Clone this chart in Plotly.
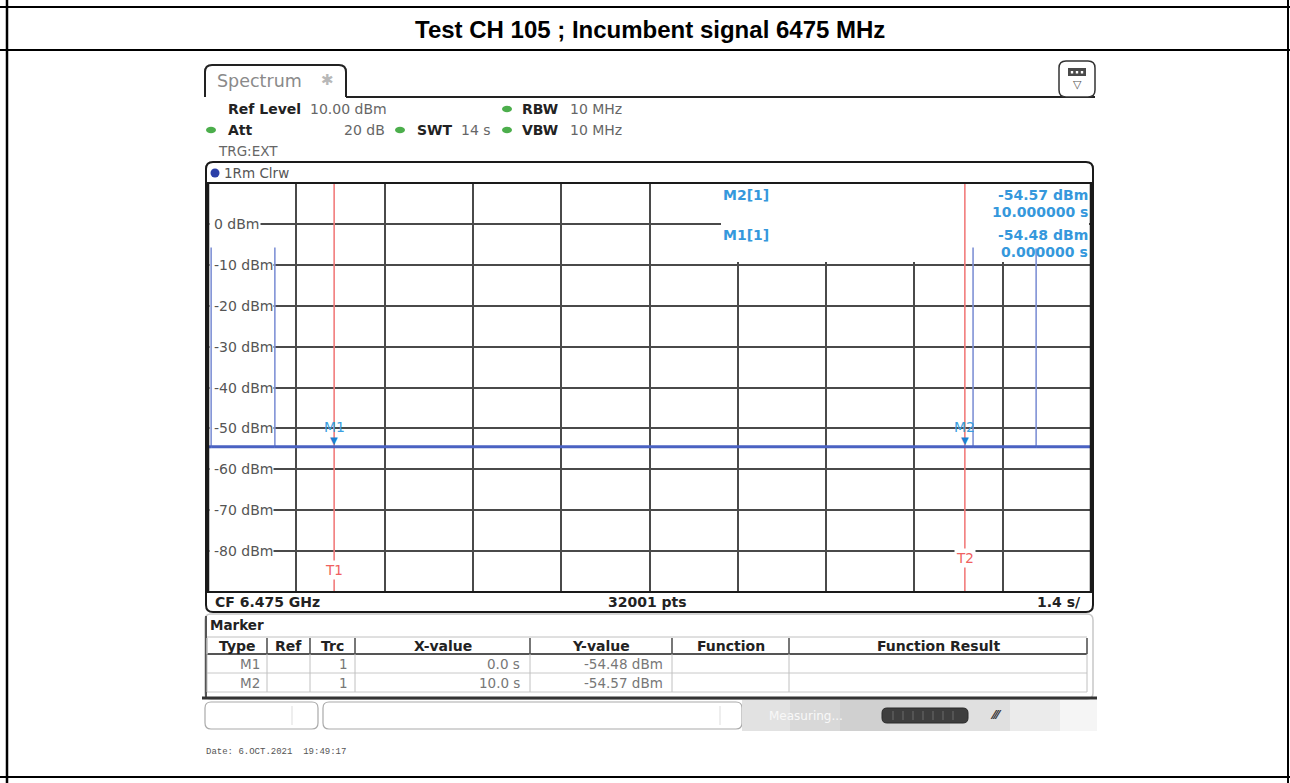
import plotly.graph_objects as go

W, H = 1290, 783

# ---------------- data ----------------
sweep_start_s, sweep_stop_s = -2.0, 12.0
time_per_div_s = 1.4
ref_level_dbm, bottom_level_dbm = 10.0, -90.0
noise_floor_dbm = -54.5
pulse_times_s = [-1.95, -0.94, 10.13, 11.13]
pulse_peaks_dbm = [-5.8, -5.8, -5.8, -6.0]

marker_names = ["M1", "M2"]
marker_x_s = [0.0, 10.0]
marker_y_dbm = [-54.48, -54.57]
time_line_names = ["T1", "T2"]

y_tick_values = [0, -10, -20, -30, -40, -50, -60, -70, -80]
y_tick_labels = ["0 dBm", "-10 dBm", "-20 dBm", "-30 dBm", "-40 dBm",
                 "-50 dBm", "-60 dBm", "-70 dBm", "-80 dBm"]

table_headers = ["Type", "Ref", "Trc", "X-value", "Y-value", "Function", "Function Result"]
table_trc = ["1", "1"]
table_x = ["0.0 s", "10.0 s"]
table_y = ["-54.48 dBm", "-54.57 dBm"]

title_text = "Test CH 105 ; Incumbent signal 6475 MHz"

# build trace from data
trace_t = [sweep_start_s]
trace_y = [noise_floor_dbm]
for t, p in zip(pulse_times_s, pulse_peaks_dbm):
    trace_t += [t, t, t]
    trace_y += [noise_floor_dbm, p, noise_floor_dbm]
trace_t.append(sweep_stop_s)
trace_y.append(noise_floor_dbm)
floor_only = [v if v < -40 else None for v in trace_y]

# ---------------- helpers ----------------
PL, PR, PT, PB = 208, 1091, 183, 592   # plot area in pixels

def px(x):
    return x / W

def py(y):
    return 1 - y / H

def xdata(x):
    return sweep_start_s + (x - PL) / (PR - PL) * (sweep_stop_s - sweep_start_s)

def ydata(y):
    return bottom_level_dbm + (PB - y) / (PB - PT) * (ref_level_dbm - bottom_level_dbm)

shapes = []
annotations = []
UI = "DejaVu Sans"

def line(x0, y0, x1, y1, color="black", width=2, layer="above"):
    shapes.append(dict(type="line", xref="paper", yref="paper", x0=px(x0), y0=py(y0),
                       x1=px(x1), y1=py(y1), line=dict(color=color, width=width), layer=layer))

def rect(x0, y0, x1, y1, fill="white", color=None, width=0, layer="above"):
    shapes.append(dict(type="rect", xref="paper", yref="paper", x0=px(x0), y0=py(y1),
                       x1=px(x1), y1=py(y0), fillcolor=fill,
                       line=dict(color=color or fill, width=width), layer=layer))

def rrect(x0, y0, x1, y1, r, color="black", width=2, fill=None, layer="above", open_bottom=False):
    if open_bottom:
        p = (f"M {px(x0)},{py(y1)} L {px(x0)},{py(y0 + r)} Q {px(x0)},{py(y0)} {px(x0 + r)},{py(y0)} "
             f"L {px(x1 - r)},{py(y0)} Q {px(x1)},{py(y0)} {px(x1)},{py(y0 + r)} L {px(x1)},{py(y1)}")
    else:
        p = (f"M {px(x0 + r)},{py(y0)} L {px(x1 - r)},{py(y0)} Q {px(x1)},{py(y0)} {px(x1)},{py(y0 + r)} "
             f"L {px(x1)},{py(y1 - r)} Q {px(x1)},{py(y1)} {px(x1 - r)},{py(y1)} "
             f"L {px(x0 + r)},{py(y1)} Q {px(x0)},{py(y1)} {px(x0)},{py(y1 - r)} "
             f"L {px(x0)},{py(y0 + r)} Q {px(x0)},{py(y0)} {px(x0 + r)},{py(y0)} Z")
    d = dict(type="path", xref="paper", yref="paper", path=p,
             line=dict(color=color, width=width), layer=layer)
    if fill:
        d["fillcolor"] = fill
    shapes.append(d)

def ellipse(cx, cy, rx, ry, fill):
    shapes.append(dict(type="circle", xref="paper", yref="paper", x0=px(cx - rx), x1=px(cx + rx),
                       y0=py(cy + ry), y1=py(cy - ry), fillcolor=fill, line=dict(color=fill, width=0)))

def text(x, y, s, size=14, color="#333", family=UI, xanchor="left",
         bold=False, bg=None, yanchor="middle"):
    if bold:
        s = f"<b>{s}</b>"
    a = dict(x=px(x), y=py(y), xref="paper", yref="paper", text=s, showarrow=False,
             xanchor=xanchor, yanchor=yanchor, font=dict(size=size, color=color, family=family),
             borderpad=0)
    if bg:
        a["bgcolor"] = bg
    annotations.append(a)

# ---------------- document frame ----------------
line(0, 7, W, 7, width=2)
line(0, 50, W, 50, width=2)
line(0, 777, W, 777, width=2)
line(7, 0, 7, H, width=2.5)
line(1288, 0, 1288, H, width=2)
text(650, 30, title_text, size=24, color="black", family="Liberation Sans", xanchor="center", bold=True)

# ---------------- instrument header ----------------
rrect(205, 65, 346, 97, 7, color="#222", width=2, open_bottom=True)
line(346, 97, 1095, 97, color="#222", width=2)
text(216, 81, "Spectrum", size=17.5, color="#8a8a8a")
text(327, 80, "✱", size=15, color="#b8b8b8", xanchor="center")
rrect(1059, 61, 1095, 97, 7, color="#333", width=1.5, fill="white")
rect(1068, 68, 1086, 76, fill="#4a4a4a")
for dxp in [1072, 1077, 1082]:
    rect(dxp - 1.2, 71, dxp + 1.2, 73.5, fill="white")
text(1077, 85, "▽", size=11, color="#555", xanchor="center")

green = "#4cae4c"
r1, r2 = 109, 130
text(227, r1, "Ref Level", color="#222", bold=True)
text(309, r1, "10.00 dBm", color="#666")
ellipse(507, r1, 5, 3.2, green)
text(521, r1, "RBW", color="#222", bold=True)
text(569, r1, "10 MHz", color="#666")
ellipse(211, r2, 5, 3.2, green)
text(227, r2, "Att", color="#222", bold=True)
text(386, r2, "20 dB", color="#666", xanchor="right")
ellipse(400, r2, 5, 3.2, green)
text(416, r2, "SWT", color="#222", bold=True)
text(460, r2, "14 s", color="#666")
ellipse(507, r2, 5, 3.2, green)
text(521, r2, "VBW", color="#222", bold=True)
text(569, r2, "10 MHz", color="#666")
text(217, 151, "TRG:EXT", size=13.5, color="#666")

# ---------------- graph frame ----------------
rrect(206, 162, 1093, 612, 7, color="#1a1a1a", width=2)
line(207, PT, 1092, PT, color="#1a1a1a", width=2)
line(207, PB, 1092, PB, color="#1a1a1a", width=2)
line(PL, PT, PL, PB, color="#1a1a1a", width=2.5)
line(PR, PT, PR, PB, color="#1a1a1a", width=2.5)
ellipse(215, 173, 4.5, 4.5, "#2b3fa8")
text(223, 173, "1Rm Clrw", size=13.5, color="#555")
text(214, 602, "CF 6.475 GHz", size=14, color="#222", bold=True)
text(647, 602, "32001 pts", size=14, color="#222", bold=True, xanchor="center")
text(1082, 602, "1.4 s/", size=14, color="#222", bold=True, xanchor="right")

# marker info box (white, covering grid, below traces)
shapes.append(dict(type="rect", xref="x", yref="y", x0=xdata(721), x1=xdata(1089),
                   y0=ydata(262), y1=ydata(184), fillcolor="white", line=dict(width=0), layer="between"))
# blank the gridline stubs left of the inside tick labels (below the trace)
for v in y_tick_values:
    shapes.append(dict(type="rect", xref="x", yref="y", x0=xdata(209.5), x1=xdata(214),
                       y0=v - 1.2, y1=v + 1.2, fillcolor="white", line=dict(width=0), layer="between"))

info_col = "#3598dc"
m1, m2 = 0, 1
text(722, 195, f"{marker_names[m2]}[1]", size=14, color=info_col, bold=True)
text(1089, 195, f"{marker_y_dbm[m2]:.2f} dBm", size=14, color=info_col, xanchor="right", bold=True)
text(1089, 212, f"{marker_x_s[m2]:.6f} s", size=14, color=info_col, xanchor="right", bold=True)
text(722, 235, f"{marker_names[m1]}[1]", size=14, color=info_col, bold=True)
text(1089, 235, f"{marker_y_dbm[m1]:.2f} dBm", size=14, color=info_col, xanchor="right", bold=True)
text(1089, 252, f"{marker_x_s[m1]:.6f} s", size=14, color=info_col, xanchor="right", bold=True)

# time lines
for name, xv, ylab in zip(time_line_names, marker_x_s, [570, 558]):
    shapes.append(dict(type="line", xref="x", yref="y", x0=xv, x1=xv,
                       y0=bottom_level_dbm, y1=ydata(184),
                       line=dict(color="#f27c7c", width=1.6), layer="between"))
    annotations.append(dict(x=xv, y=py(ylab), xref="x", yref="paper", text=name, showarrow=False,
                            xanchor="center", yanchor="middle", bgcolor="white", borderpad=1,
                            font=dict(size=13.5, color="#f06060", family=UI)))

# y tick labels (inside, white background)
for v, lab in zip(y_tick_values, y_tick_labels):
    annotations.append(dict(x=px(213), y=v, xref="paper", yref="y", text=lab, showarrow=False,
                            xanchor="left", yanchor="middle", bgcolor="white", borderpad=0,
                            font=dict(size=14, color="#555", family=UI)))

# markers
for name, xv, yv in zip(marker_names, marker_x_s, marker_y_dbm):
    annotations.append(dict(x=xv, y=yv, xref="x", yref="y", text="▼", showarrow=False,
                            xanchor="center", yanchor="bottom", yshift=-1,
                            font=dict(size=10, color="#1f80d0", family=UI)))
    annotations.append(dict(x=xv, y=yv, xref="x", yref="y", text=name, showarrow=False,
                            xanchor="center", yanchor="bottom", yshift=10,
                            font=dict(size=14, color="#3a9ee0", family=UI)))

# ---------------- marker table ----------------
rrect(205, 614, 1093, 699, 6, color="#c8c8c8", width=1.5)
line(206, 616, 206, 697, color="#555", width=2)
text(209, 625, "Marker", size=13.5, color="#222", bold=True)
col_x = [207, 267, 310, 355, 530, 672, 789, 1087]
line(207, 637, 1087, 637, color="#c0c0c0", width=1)
line(207, 654, 1087, 654, color="#555", width=2)
line(207, 673, 1087, 673, color="#c8c8c8", width=1)
line(207, 692, 1087, 692, color="#c8c8c8", width=1)
for i, cx in enumerate(col_x):
    line(cx, 638, cx, 654, color="#555" if 0 < i else "#c0c0c0", width=1.6)
    line(cx, 654, cx, 692, color="#c0c0c0", width=1)
for i, h in enumerate(table_headers):
    text((col_x[i] + col_x[i + 1]) / 2, 646, h, size=14, color="#222", bold=True, xanchor="center")
for r, yy in enumerate([664, 683]):
    text(261, yy, marker_names[r], size=13.5, color="#777", xanchor="right")
    text(349, yy, table_trc[r], size=13.5, color="#777", xanchor="right")
    text(521, yy, table_x[r], size=13.5, color="#777", xanchor="right")
    text(664, yy, table_y[r], size=13.5, color="#777", xanchor="right")
line(202, 698, 1097, 698, color="#333", width=3)

# ---------------- status bar ----------------
rrect(205, 702, 318, 729, 6, color="#aaa", width=1.2, fill="white")
line(292, 706, 292, 725, color="#ddd", width=1)
rrect(323, 702, 742, 729, 6, color="#aaa", width=1.2, fill="white")
line(720, 706, 720, 725, color="#ddd", width=1)
grads = ["#e2e2e2", "#d8d8d8", "#d0d0d0", "#d6d6d6", "#e0e0e0", "#ebebeb", "#f5f5f5"]
xs = [742, 790, 840, 890, 950, 1010, 1060, 1097]
for i, c in enumerate(grads):
    rect(xs[i], 700, xs[i + 1], 731, fill=c)
text(806, 716, "Measuring...", size=12, color="#f8f8f8", xanchor="center")
rrect(882, 708, 968, 723, 5, color="#2a2a2a", width=1, fill="#3e3e3e")
for sx in [893, 903, 913, 923, 933, 943, 953]:
    line(sx, 711, sx, 720, color="#6a6a6a", width=1)
text(996, 715, "⁄⁄⁄", size=12, color="#333", xanchor="center", bold=True)

text(205, 752, "Date: 6.OCT.2021  19:49:17", size=9, color="#555", family="Liberation Mono")

# ---------------- traces ----------------
fig = go.Figure()
fig.add_trace(go.Scatter(x=trace_t, y=trace_y, mode="lines",
                         line=dict(color="#8092d6", width=1.6), hoverinfo="skip", showlegend=False))
fig.add_trace(go.Scatter(x=trace_t, y=floor_only, mode="lines", connectgaps=False,
                         line=dict(color="#4a62c2", width=3), hoverinfo="skip", showlegend=False))

fig.update_layout(
    width=W, height=H, margin=dict(l=0, r=0, t=0, b=0),
    paper_bgcolor="white", plot_bgcolor="white",
    shapes=shapes, annotations=annotations, showlegend=False,
    xaxis=dict(domain=[px(PL), px(PR)], range=[sweep_start_s, sweep_stop_s],
               tick0=sweep_start_s, dtick=time_per_div_s, showgrid=True,
               gridcolor="#4a4a4a", gridwidth=1.6, showticklabels=False, ticks="",
               zeroline=False, showline=False, fixedrange=True),
    yaxis=dict(domain=[py(PB), py(PT)], range=[bottom_level_dbm, ref_level_dbm],
               tick0=0, dtick=10, showgrid=True, gridcolor="#4a4a4a", gridwidth=1.6,
               showticklabels=False, ticks="", zeroline=False, showline=False, fixedrange=True),
)

fig.write_html("out.html", config={"displayModeBar": False},
               post_script="document.body.style.margin='0';document.body.style.overflow='hidden';")
